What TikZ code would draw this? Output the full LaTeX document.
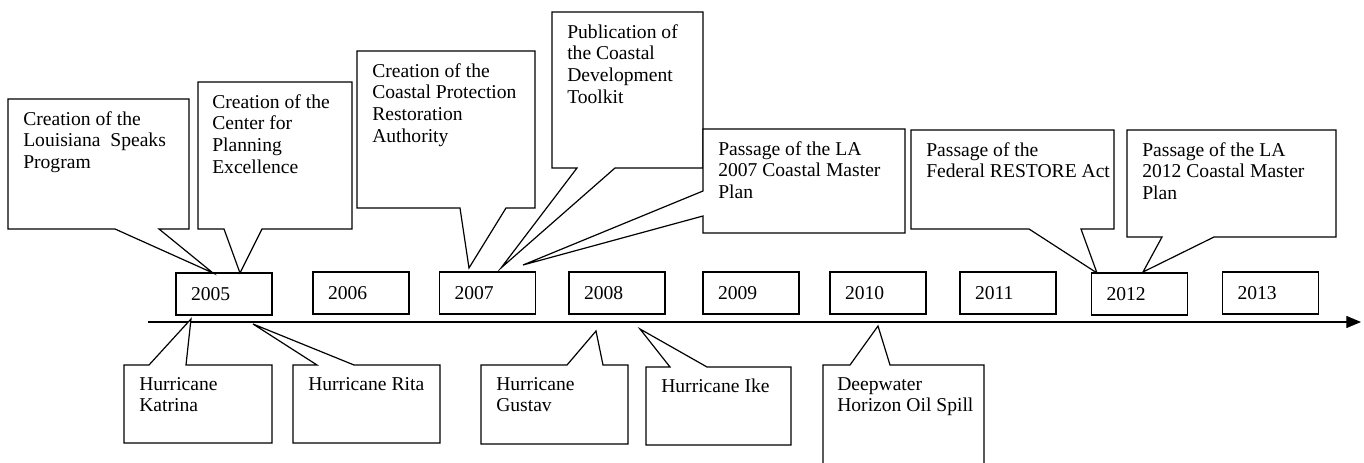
\documentclass[tikz,border=0pt]{standalone}
\usepackage{fontspec}
\setmainfont{Liberation Serif}
\usetikzlibrary{arrows.meta}
\tikzset{
  px/.style={x=0.75pt,y=-0.75pt},
  ln/.style={line width=0.9pt,line join=miter},
  callout/.style={ln,draw=black,fill=white},
  ctext/.style={anchor=north west,inner sep=0pt,align=left,
    font=\fontsize{14.7pt}{16.3pt}\selectfont},
  yearbox/.style={draw,ln,fill=white,minimum width=72pt,minimum height=31.5pt,
    inner xsep=11.25pt,inner ysep=0pt,text width=49.5pt,align=left,
    font=\fontsize{14.7pt}{16.3pt}\selectfont},
}
\begin{document}
\begin{tikzpicture}[px]
\useasboundingbox (0,0) rectangle (1364,463);
\clip (0,0) rectangle (1364,463);
% axis
\coordinate (axstart) at (148,322);
\coordinate (axend) at (1361,322);
\draw[ln,-{Triangle[length=11pt,width=9pt]}] (axstart) -- (axend);
% year boxes
\node[yearbox] (y2005) at (224,294) {2005};
\node[yearbox] (y2006) at (361,293) {2006};
\node[yearbox] (y2007) at (487.5,293) {2007};
\node[yearbox] (y2008) at (617,293) {2008};
\node[yearbox] (y2009) at (751,293) {2009};
\node[yearbox] (y2010) at (878,293) {2010};
\node[yearbox] (y2011) at (1008,293) {2011};
\node[yearbox] (y2012) at (1139.5,294) {2012};
\node[yearbox] (y2013) at (1270.5,293) {2013};
% tail tips
\coordinate (t1) at (213,273);
\coordinate (t2) at (240,273);
\coordinate (t3) at (469,268);
\coordinate (t4) at (501,268);
\coordinate (t5) at (523,265);
\coordinate (t6) at (1097,273);
\coordinate (t7) at (1143,272);
\coordinate (b1) at (191,319);
\coordinate (b2) at (253,324);
\coordinate (b3) at (596,331);
\coordinate (b4) at (640,329);
\coordinate (b5) at (878,326);
% top callouts
\draw[callout] (8,99) -- (189,99) -- (189,229) -- (159,229) -- (t1) -- (115,229) -- (8,229) -- cycle;
\node[ctext] (c1) at (23,111) {Creation of the\\Louisiana\ \ Speaks\\Program};
\draw[callout] (198,82) -- (352,82) -- (352,229) -- (262,229) -- (t2) -- (224,229) -- (198,229) -- cycle;
\node[ctext] (c2) at (212,94) {Creation of the\\Center for\\Planning\\Excellence};
\draw[callout] (357,51) -- (535,51) -- (535,208) -- (506,208) -- (t3) -- (460,208) -- (357,208) -- cycle;
\node[ctext] (c3) at (372,63) {Creation of the\\Coastal Protection\\Restoration\\Authority};
\draw[callout] (552,12) -- (703,12) -- (703,168) -- (615,168) -- (t4) -- (577,168) -- (552,168) -- cycle;
\node[ctext] (c4) at (567,24) {Publication of\\the Coastal\\Development\\Toolkit};
\draw[callout] (703,129) -- (905,129) -- (905,233) -- (703,233) -- (703,216) -- (t5) -- (703,191) -- cycle;
\node[ctext] (c5) at (718,141) {Passage of the LA\\2007 Coastal Master\\Plan};
\draw[callout] (911,130) -- (1114,130) -- (1114,229) -- (1081,229) -- (t6) -- (1029,229) -- (911,229) -- cycle;
\node[ctext] (c6) at (926,142) {Passage of the\\Federal RESTORE Act};
\draw[callout] (1127,130) -- (1336,130) -- (1336,237) -- (1214,237) -- (t7) -- (1162,237) -- (1127,237) -- cycle;
\node[ctext] (c7) at (1142,142) {Passage of the LA\\2012 Coastal Master\\Plan};
% bottom callouts
\draw[callout] (124,365) -- (149,365) -- (b1) -- (186,365) -- (272,365) -- (272,443) -- (124,443) -- cycle;
\node[ctext] (d1) at (139,377) {Hurricane\\Katrina};
\draw[callout] (293,365) -- (317,365) -- (b2) -- (354,365) -- (440,365) -- (440,443) -- (293,443) -- cycle;
\node[ctext] (d2) at (308,377) {Hurricane Rita};
\draw[callout] (481,365) -- (567,365) -- (b3) -- (603,365) -- (628,365) -- (628,444) -- (481,444) -- cycle;
\node[ctext] (d3) at (496,377) {Hurricane\\Gustav};
\draw[callout] (646,367) -- (670,367) -- (b4) -- (707,367) -- (791,367) -- (791,445) -- (646,445) -- cycle;
\node[ctext] (d4) at (661,379) {Hurricane Ike};
\draw[callout] (823,365) -- (850,365) -- (b5) -- (890,365) -- (984,365) -- (984,480) -- (823,480) -- cycle;
\node[ctext] (d5) at (837,377) {Deepwater\\Horizon Oil Spill};
\end{tikzpicture}
\end{document}
